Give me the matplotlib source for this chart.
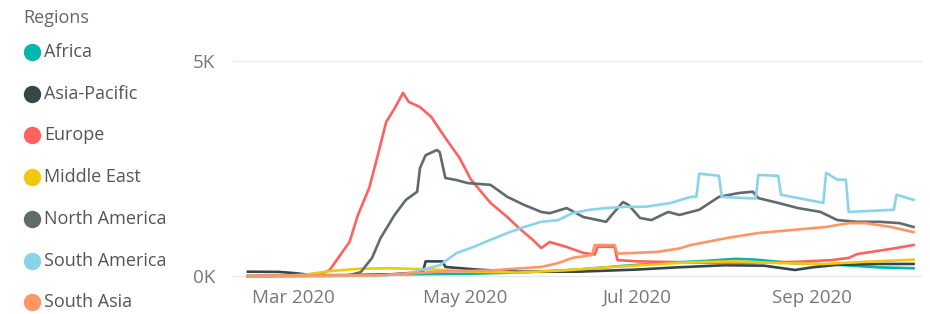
import datetime as dt
import matplotlib
matplotlib.use('Agg')
import matplotlib.pyplot as plt
import matplotlib.dates as mdates
from matplotlib.lines import Line2D

plt.rcParams['font.family'] = ['Open Sans', 'DejaVu Sans']

# region names and colours (Power BI default palette)
regions = ['Africa', 'Asia-Pacific', 'Europe', 'Middle East',
           'North America', 'South America', 'South Asia']
colors = ['#01B8AA', '#374649', '#FD625E', '#F2C80F',
          '#5F6B6D', '#8AD4EB', '#FE9666']

# daily values (dates as 'MM-DD' in 2020)
africa_d = ['02-14', '03-20', '04-10', '05-01', '05-20', '06-10', '06-25', '07-10',
            '07-25', '08-05', '08-12', '08-25', '09-10', '09-25', '10-07']
africa_v = [0, 5, 40, 50, 80, 150, 230, 300, 350, 400, 380, 300, 260, 200, 180]

asia_d = ['02-14', '02-25', '03-01', '03-08', '03-20', '04-05', '04-16', '04-17',
          '04-23', '04-24', '05-05', '05-20', '06-10', '07-01', '07-15', '08-01',
          '08-15', '08-26', '09-01', '09-10', '09-25', '10-07']
asia_v = [100, 95, 70, 20, 20, 40, 90, 340, 340, 210, 150, 100, 100, 150, 200,
          250, 240, 140, 200, 260, 280, 280]

europe_d = ['02-14', '03-05', '03-10', '03-14', '03-17', '03-21', '03-24', '03-28',
            '03-31', '04-03', '04-06', '04-09', '04-11', '04-15', '04-19', '04-24',
            '04-29', '05-03', '05-10', '05-16', '05-20', '05-25', '05-28', '05-31',
            '06-06', '06-12', '06-16', '06-17', '06-23', '06-24', '07-01', '08-01',
            '08-20', '08-27', '09-08', '09-14', '09-17', '09-29', '10-07']
europe_v = [0, 5, 20, 140, 420, 790, 1420, 2050, 2800, 3580, 3900, 4260, 4050,
            3930, 3700, 3210, 2750, 2250, 1700, 1370, 1120, 840, 650, 790, 675, 535,
            500, 680, 680, 370, 340, 300, 320, 330, 370, 420, 510, 630, 720]

mideast_d = ['02-14', '02-25', '03-05', '03-15', '03-25', '04-05', '04-20', '05-05',
             '05-20', '06-05', '06-20', '07-05', '07-20', '08-05', '08-20', '09-05',
             '09-20', '10-07']
mideast_v = [0, 5, 30, 120, 170, 180, 150, 100, 80, 130, 200, 260, 320, 340, 300,
             280, 330, 380]

namerica_d = ['02-14', '03-15', '03-21', '03-25', '03-29', '04-01', '04-06', '04-10',
              '04-14', '04-15', '04-17', '04-21', '04-22', '04-23', '04-24', '04-28',
              '05-02', '05-10', '05-16', '05-22', '05-28', '05-31', '06-06', '06-12',
              '06-20', '06-22', '06-26', '06-28', '07-02', '07-06', '07-12', '07-16',
              '07-23', '07-30', '08-06', '08-11', '08-13', '08-20', '08-27', '09-04',
              '09-10', '09-17', '09-25', '10-02', '10-07']
namerica_v = [0, 5, 20, 90, 420, 880, 1420, 1770, 1960, 2510, 2810, 2930, 2880,
              2580, 2280, 2230, 2160, 2120, 1840, 1650, 1490, 1460, 1580, 1370, 1260,
              1420, 1720, 1650, 1350, 1300, 1490, 1420, 1540, 1840, 1930, 1960, 1810,
              1700, 1580, 1490, 1300, 1260, 1260, 1230, 1140]

samerica_d = ['02-14', '03-31', '04-10', '04-22', '04-28', '05-04', '05-10', '05-16',
              '05-22', '05-28', '06-03', '06-08', '06-14', '06-20', '06-27', '07-04',
              '07-13', '07-20', '07-22', '07-23', '07-30', '07-31', '08-12', '08-13',
              '08-20', '08-21', '09-05', '09-06', '09-10', '09-13', '09-14', '09-30',
              '10-01', '10-07']
samerica_v = [0, 0, 50, 250, 535, 675, 840, 1000, 1140, 1260, 1300, 1460, 1540,
              1580, 1610, 1610, 1700, 1840, 1840, 2380, 2330, 1840, 1800, 2350, 2330,
              1890, 1700, 2400, 2240, 2240, 1490, 1540, 1890, 1770]

sasia_d = ['02-14', '04-01', '04-22', '05-10', '05-28', '06-03', '06-08', '06-15',
           '06-16', '06-23', '06-24', '07-08', '07-16', '07-20', '08-02', '08-13',
           '08-25', '09-06', '09-14', '09-20', '09-29', '10-07']
sasia_v = [0, 20, 100, 130, 210, 300, 420, 490, 720, 720, 520, 560, 640, 720, 885,
           1000, 1070, 1140, 1230, 1230, 1140, 1020]

series = [(africa_d, africa_v), (asia_d, asia_v), (europe_d, europe_v),
          (mideast_d, mideast_v), (namerica_d, namerica_v),
          (samerica_d, samerica_v), (sasia_d, sasia_v)]


def to_dates(days):
    return [dt.datetime.strptime('2020-' + d, '%Y-%m-%d') for d in days]


fig = plt.figure(figsize=(9.3, 3.14), dpi=100)
ax = fig.add_axes([233 / 930, 1 - 283 / 314, (922 - 233) / 930, 228 / 314])

for (d, v), c in zip(series, colors):
    ax.plot(to_dates(d), v, color=c, lw=1.9, solid_joinstyle='round')

mar1 = dt.datetime(2020, 3, 1)
ax.set_xlim(mar1 - dt.timedelta(days=21.3), mar1 + dt.timedelta(days=223))
ax.set_ylim(-163, 5140)

ax.set_yticks([0, 5000])
ax.set_yticklabels(['0K', '5K'])
ax.xaxis.set_major_locator(mdates.MonthLocator(bymonth=[3, 5, 7, 9]))
ax.xaxis.set_major_formatter(mdates.DateFormatter('%b %Y'))
ax.tick_params(axis='both', length=0, labelsize=13.5, labelcolor='#777777')
ax.tick_params(axis='y', pad=13)
ax.tick_params(axis='x', pad=4)
ax.grid(axis='y', color='#e9e9e9', lw=1)
ax.set_axisbelow(True)
for s in ax.spines.values():
    s.set_visible(False)

# legend on the left
fig.text(23 / 930, 1 - 18 / 314, 'Regions', fontsize=13, color='#666666',
         va='center', ha='left')
for i, (name, c) in enumerate(zip(regions, colors)):
    yy = 1 - (52 + i * 41.7) / 314
    fig.add_artist(Line2D([32 / 930], [yy], marker='o', ms=11.5, color=c,
                          mec=c, transform=fig.transFigure))
    fig.text(44 / 930, yy, name, fontsize=13, color='#555555',
             va='center', ha='left')

fig.savefig('out.png', dpi=100)
